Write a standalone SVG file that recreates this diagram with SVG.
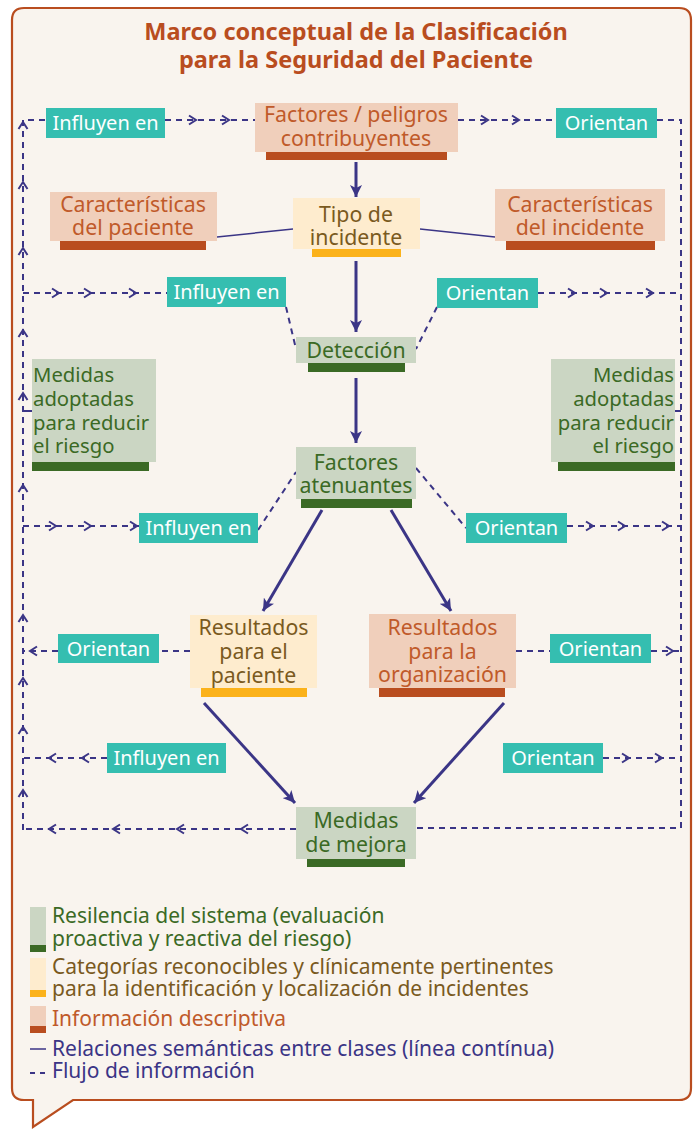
<svg xmlns="http://www.w3.org/2000/svg" width="694" height="1129" viewBox="0 0 694 1129">
<defs>
<style>
text{font-family:"Noto Sans","Open Sans","Liberation Sans",sans-serif;}
.title{font-size:23.5px;font-weight:bold;fill:#b94d1f;text-anchor:middle;}
.nt{font-size:21.3px;text-anchor:middle;}
.peach{fill:#f0cfbb;}
.peachbar{fill:#b94d1f;}
.peacht{fill:#c05a2a;}
.yel{fill:#feecce;}
.yelbar{fill:#fbb21b;}
.yelt{fill:#7a5a1e;}
.grn{fill:#cbd6c3;}
.grnbar{fill:#3b6a25;}
.grnt{fill:#3b6a25;}
.teal{fill:#35beb0;}
.tealt{fill:#ffffff;font-size:20px;text-anchor:middle;}
.solid{stroke:#3b3586;stroke-width:3;fill:none;}
.thin{stroke:#3b3586;stroke-width:1.5;fill:none;}
.dash{stroke:#3b3586;stroke-width:2;fill:none;stroke-dasharray:6 5;}
.chev{stroke:#3b3586;stroke-width:2;fill:none;}
.leg{font-size:21px;}
.ma{font-size:20.3px;}
</style>
<marker id="ah" markerUnits="userSpaceOnUse" markerWidth="14" markerHeight="12" refX="12" refY="6" orient="auto">
<path d="M0,0 L12,6 L0,12 L3,6 Z" fill="#3b3586"/>
</marker>
<path id="cv" d="M-7,-4.5 L0,0 L-7,4.5"/>
</defs>
<rect x="0" y="0" width="694" height="1129" fill="#ffffff"/>
<path d="M24,8 H679 Q691,8 691,20 V1088 Q691,1100 679,1100 H73 L33,1127 V1100 H24 Q12,1100 12,1088 V20 Q12,8 24,8 Z" fill="#f9f4ee" stroke="#b94d1f" stroke-width="2.2"/>
<g id="title">
<text class="title" x="356" y="40">Marco conceptual de la Clasificación</text>
<text class="title" x="356" y="68">para la Seguridad del Paciente</text>
</g>
<g id="connectors">
<path class="solid" d="M356,162 V197" marker-end="url(#ah)"/>
<path class="solid" d="M356,261 V332" marker-end="url(#ah)"/>
<path class="solid" d="M356,378 V443" marker-end="url(#ah)"/>
<path class="solid" d="M322,510 L263,611" marker-end="url(#ah)"/>
<path class="solid" d="M391,510 L451,611" marker-end="url(#ah)"/>
<path class="solid" d="M204,703 L295,803" marker-end="url(#ah)"/>
<path class="solid" d="M504,703 L414,803" marker-end="url(#ah)"/>
<path class="thin" d="M217,237 L293,229"/>
<path class="thin" d="M420,229 L495,237"/>
<path class="dash" d="M23,830 V120 H46"/>
<path class="dash" d="M165,120 H255"/>
<path class="dash" d="M458,120 H556"/>
<path class="dash" d="M657,120 H681 V828 H416"/>
<path class="dash" d="M296,829 H23"/>
<path class="dash" d="M23,293 H167"/>
<path class="dash" d="M286,307 L296,349"/>
<path class="dash" d="M437,307 L416,349"/>
<path class="dash" d="M538,293 H681"/>
<path class="dash" d="M23,526 H139"/>
<path class="dash" d="M258,530 L296,472"/>
<path class="dash" d="M416,468 L466,528"/>
<path class="dash" d="M567,526 H681"/>
<path class="dash" d="M190,651 H159"/>
<path class="dash" d="M58,651 H23"/>
<path class="dash" d="M516,651 H550"/>
<path class="dash" d="M651,651 H681"/>
<path class="dash" d="M107,758 H23"/>
<path class="dash" d="M603,758 H681"/>
<path class="chev" d="M23,411 H32"/>
<path class="chev" d="M675,411 H681"/>
<g class="chev">
<use href="#cv" transform="translate(23,122) rotate(-90)"/>
<use href="#cv" transform="translate(23,182) rotate(-90)"/>
<use href="#cv" transform="translate(23,248) rotate(-90)"/>
<use href="#cv" transform="translate(23,330) rotate(-90)"/>
<use href="#cv" transform="translate(23,393) rotate(-90)"/>
<use href="#cv" transform="translate(23,485) rotate(-90)"/>
<use href="#cv" transform="translate(23,615) rotate(-90)"/>
<use href="#cv" transform="translate(23,678) rotate(-90)"/>
<use href="#cv" transform="translate(23,727) rotate(-90)"/>
<use href="#cv" transform="translate(23,790) rotate(-90)"/>
<use href="#cv" transform="translate(196,120)"/>
<use href="#cv" transform="translate(229,120)"/>
<use href="#cv" transform="translate(488,120)"/>
<use href="#cv" transform="translate(519,120)"/>
<use href="#cv" transform="translate(59,293)"/>
<use href="#cv" transform="translate(91,293)"/>
<use href="#cv" transform="translate(136,293)"/>
<use href="#cv" transform="translate(575,293)"/>
<use href="#cv" transform="translate(607,293)"/>
<use href="#cv" transform="translate(653,293)"/>
<use href="#cv" transform="translate(56,526)"/>
<use href="#cv" transform="translate(91,526)"/>
<use href="#cv" transform="translate(137,526)"/>
<use href="#cv" transform="translate(593,526)"/>
<use href="#cv" transform="translate(625,526)"/>
<use href="#cv" transform="translate(669,526)"/>
<use href="#cv" transform="translate(30,651) rotate(180)"/>
<use href="#cv" transform="translate(673,651)"/>
<use href="#cv" transform="translate(49,758) rotate(180)"/>
<use href="#cv" transform="translate(82,758) rotate(180)"/>
<use href="#cv" transform="translate(629,758)"/>
<use href="#cv" transform="translate(662,758)"/>
<use href="#cv" transform="translate(49,829) rotate(180)"/>
<use href="#cv" transform="translate(113,829) rotate(180)"/>
<use href="#cv" transform="translate(177,829) rotate(180)"/>
<use href="#cv" transform="translate(241,829) rotate(180)"/>
</g>
</g>
<g id="factores-peligros">
<rect class="peach" x="255" y="103" width="203" height="49"/>
<rect class="peachbar" x="266" y="152" width="181" height="8"/>
<text class="nt peacht" x="356" y="122">Factores / peligros</text>
<text class="nt peacht" x="356" y="146">contribuyentes</text>
</g>
<g id="tipo-incidente">
<rect class="yel" x="293" y="198" width="127" height="51"/>
<rect class="yelbar" x="312" y="249" width="89" height="8"/>
<text class="nt yelt" x="356" y="222">Tipo de</text>
<text class="nt yelt" x="356" y="245">incidente</text>
</g>
<g id="caracteristicas-paciente">
<rect class="peach" x="50" y="192" width="167" height="49"/>
<rect class="peachbar" x="60" y="241" width="146" height="9"/>
<text class="nt peacht" x="133" y="212">Características</text>
<text class="nt peacht" x="133" y="235">del paciente</text>
</g>
<g id="caracteristicas-incidente">
<rect class="peach" x="495" y="189" width="170" height="52"/>
<rect class="peachbar" x="506" y="241" width="149" height="9"/>
<text class="nt peacht" x="580" y="212">Características</text>
<text class="nt peacht" x="580" y="235">del incidente</text>
</g>
<g id="deteccion">
<rect class="grn" x="296" y="337" width="120" height="26"/>
<rect class="grnbar" x="308" y="363" width="97" height="9"/>
<text class="nt grnt" x="356" y="358">Detección</text>
</g>
<g id="medidas-adoptadas-izq">
<rect class="grn" x="32" y="359" width="124" height="103"/>
<rect class="grnbar" x="32" y="462" width="117" height="9"/>
<text class="grnt ma" x="33" y="382">Medidas</text>
<text class="grnt ma" x="33" y="406">adoptadas</text>
<text class="grnt ma" x="33" y="430">para reducir</text>
<text class="grnt ma" x="33" y="453">el riesgo</text>
</g>
<g id="medidas-adoptadas-der">
<rect class="grn" x="551" y="359" width="124" height="103"/>
<rect class="grnbar" x="558" y="462" width="117" height="9"/>
<text class="grnt ma" text-anchor="end" x="674" y="382">Medidas</text>
<text class="grnt ma" text-anchor="end" x="674" y="406">adoptadas</text>
<text class="grnt ma" text-anchor="end" x="674" y="430">para reducir</text>
<text class="grnt ma" text-anchor="end" x="674" y="453">el riesgo</text>
</g>
<g id="factores-atenuantes">
<rect class="grn" x="296" y="447" width="120" height="52"/>
<rect class="grnbar" x="301" y="499" width="111" height="9"/>
<text class="nt grnt" x="356" y="470">Factores</text>
<text class="nt grnt" x="356" y="493">atenuantes</text>
</g>
<g id="resultados-paciente">
<rect class="yel" x="190" y="615" width="127" height="73"/>
<rect class="yelbar" x="201" y="688" width="106" height="9"/>
<text class="nt yelt" x="253.5" y="635">Resultados</text>
<text class="nt yelt" x="253.5" y="659">para el</text>
<text class="nt yelt" x="253.5" y="683">paciente</text>
</g>
<g id="resultados-organizacion">
<rect class="peach" x="369" y="614" width="147" height="74"/>
<rect class="peachbar" x="379" y="688" width="126" height="9"/>
<text class="nt peacht" x="442.5" y="635">Resultados</text>
<text class="nt peacht" x="442.5" y="659">para la</text>
<text class="nt peacht" x="442.5" y="682">organización</text>
</g>
<g id="medidas-mejora">
<rect class="grn" x="296" y="807" width="120" height="52"/>
<rect class="grnbar" x="307" y="859" width="98" height="8"/>
<text class="nt grnt" x="356" y="828">Medidas</text>
<text class="nt grnt" x="356" y="852">de mejora</text>
</g>
<g id="lbl-influyen-1"><rect class="teal" x="46" y="108" width="119" height="30"/><text class="tealt" x="105.5" y="130">Influyen en</text></g>
<g id="lbl-orientan-1"><rect class="teal" x="556" y="108" width="101" height="30"/><text class="tealt" x="606.5" y="130">Orientan</text></g>
<g id="lbl-influyen-2"><rect class="teal" x="167" y="277" width="119" height="30"/><text class="tealt" x="226.5" y="299">Influyen en</text></g>
<g id="lbl-orientan-2"><rect class="teal" x="437" y="278" width="101" height="30"/><text class="tealt" x="487.5" y="300">Orientan</text></g>
<g id="lbl-influyen-3"><rect class="teal" x="139" y="513" width="119" height="30"/><text class="tealt" x="198.5" y="535">Influyen en</text></g>
<g id="lbl-orientan-3"><rect class="teal" x="466" y="513" width="101" height="30"/><text class="tealt" x="516.5" y="535">Orientan</text></g>
<g id="lbl-orientan-4"><rect class="teal" x="58" y="634" width="101" height="29"/><text class="tealt" x="108.5" y="656">Orientan</text></g>
<g id="lbl-orientan-5"><rect class="teal" x="550" y="634" width="101" height="29"/><text class="tealt" x="600.5" y="656">Orientan</text></g>
<g id="lbl-influyen-4"><rect class="teal" x="107" y="743" width="119" height="30"/><text class="tealt" x="166.5" y="765">Influyen en</text></g>
<g id="lbl-orientan-6"><rect class="teal" x="503" y="743" width="100" height="30"/><text class="tealt" x="553" y="765">Orientan</text></g>
<g id="legend">
<rect class="grn" x="30" y="907" width="16" height="45"/>
<rect class="grnbar" x="30" y="945" width="16" height="7"/>
<text class="leg grnt" x="52" y="923">Resilencia del sistema (evaluación</text>
<text class="leg grnt" x="52" y="946">proactiva y reactiva del riesgo)</text>
<rect class="yel" x="30" y="958" width="16" height="39"/>
<rect class="yelbar" x="30" y="990" width="16" height="7"/>
<text class="leg yelt" x="52" y="974">Categorías reconocibles y clínicamente pertinentes</text>
<text class="leg yelt" x="52" y="996">para la identificación y localización de incidentes</text>
<rect class="peach" x="30" y="1006" width="16" height="27"/>
<rect class="peachbar" x="30" y="1026" width="16" height="7"/>
<text class="leg peacht" x="52" y="1026">Información descriptiva</text>
<path class="thin" d="M30,1049 H46"/>
<text class="leg" fill="#3b3586" x="52" y="1056">Relaciones semánticas entre clases (línea contínua)</text>
<path class="chev" d="M30,1073 H35 M40,1073 H45"/>
<text class="leg" fill="#3b3586" x="52" y="1078">Flujo de información</text>
</g>
</svg>
